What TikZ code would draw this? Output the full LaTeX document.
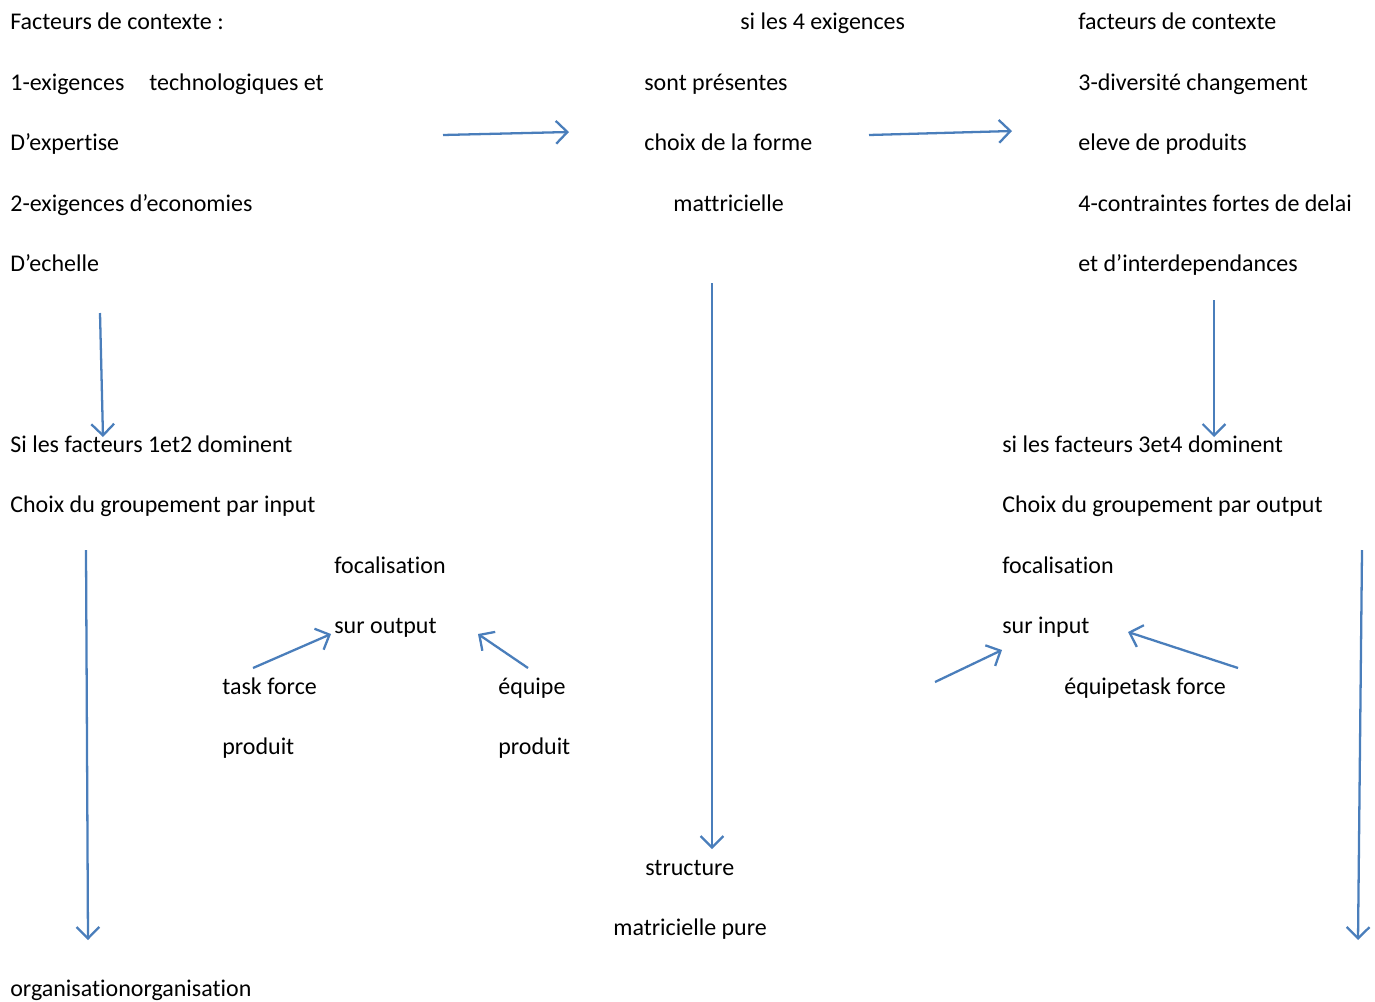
\documentclass[tikz,border=0pt]{standalone}
\usepackage{fontspec}
\setmainfont{Carlito}[Ligatures=NoCommon]
\usepackage{xcolor}
\usepackage{tikz}
\usetikzlibrary{arrows.meta}
\usetikzlibrary{positioning}

\definecolor{bleuligne}{HTML}{4A7EBB}

\begin{document}
\begin{tikzpicture}[x=0.02cm,y=-0.02cm,
	txt/.style={anchor=base west,inner sep=0pt,font=\fontsize{13.65}{16}\selectfont},
	fleche/.style={draw=bleuligne,line width=1.3pt,-{Straight Barb[length=6.5pt,width=13pt,line width=1.3pt]}}]

	\useasboundingbox (0,0) rectangle (1375,1001);

	% colonne de gauche
	\node [txt] (ctxA) at (10,29) {Facteurs de contexte :};
	\node [txt] (exA) at (10,90) {1-exigences};
	\node [txt] (exB) at (149,90) {technologiques et};
	\node [txt] (exC) at (10,150) {D’expertise};
	\node [txt] (exD) at (10,211) {2-exigences d’economies};
	\node [txt] (exE) at (10,271) {D’echelle};

	% colonne du milieu
	\node [txt] (milA) at (740,29) {si les 4 exigences};
	\node [txt] (milB) at (644,90) {sont présentes};
	\node [txt] (milC) at (644,150) {choix de la forme};
	\node [txt] (milD) at (673,211) {mattricielle};

	% colonne de droite
	\node [txt] (ctxB) at (1078,29) {facteurs de contexte};
	\node [txt] (exF) at (1078,90) {3-diversité changement};
	\node [txt] (exG) at (1078,150) {eleve de produits};
	\node [txt] (exH) at (1078,211) {4-contraintes fortes de delai};
	\node [txt] (exI) at (1078,271) {et d’interdependances};

	% input
	\node [txt] (inA) at (10,452) {Si les facteurs 1et2 dominent};
	\node [txt] (inB) at (10,512) {Choix du groupement par input};
	\node [txt] (focA) at (334,573) {focalisation};
	\node [txt] (focB) at (334,633) {sur output};
	\node [txt] (tfA) at (222,694) {task force};
	\node [txt] (tfB) at (222,754) {produit};
	\node [txt] (eqA) at (498,694) {équipe};
	\node [txt] (eqB) at (498,754) {produit};
	\node [txt] (orgA) at (10,996) {organisationorganisation};

	% output
	\node [txt] (outA) at (1002,452) {si les facteurs 3et4 dominent};
	\node [txt] (outB) at (1002,512) {Choix du groupement par output};
	\node [txt] (focC) at (1002,573) {focalisation};
	\node [txt] (focD) at (1002,633) {sur input};
	\node [txt] (eqC) at (1064,694) {équipetask force};

	% matricielle
	\node [txt] (strA) at (645,875) {structure};
	\node [txt] (strB) at (613,935) {matricielle pure};

	% fleches
	\coordinate (f1a) at (443,135);  \coordinate (f1b) at (569,132);
	\coordinate (f2a) at (869,135);  \coordinate (f2b) at (1012,131);
	\coordinate (f3a) at (100,313);  \coordinate (f3b) at (103,437);
	\coordinate (f4a) at (712,283);  \coordinate (f4b) at (712,849);
	\coordinate (f5a) at (1214,300); \coordinate (f5b) at (1214,437);
	\coordinate (f6a) at (86,550);   \coordinate (f6b) at (88,940);
	\coordinate (f7a) at (1362,550); \coordinate (f7b) at (1358,940);
	\coordinate (f8a) at (253,668);  \coordinate (f8b) at (331,634);
	\coordinate (f9a) at (528,668);  \coordinate (f9b) at (478,634);
	\coordinate (f10a) at (935,682); \coordinate (f10b) at (1002,650);
	\coordinate (f11a) at (1238,668); \coordinate (f11b) at (1128,632);

	\draw [fleche] (f1a) -- (f1b);
	\draw [fleche] (f2a) -- (f2b);
	\draw [fleche] (f3a) -- (f3b);
	\draw [fleche] (f4a) -- (f4b);
	\draw [fleche] (f5a) -- (f5b);
	\draw [fleche] (f6a) -- (f6b);
	\draw [fleche] (f7a) -- (f7b);
	\draw [fleche] (f8a) -- (f8b);
	\draw [fleche] (f9a) -- (f9b);
	\draw [fleche] (f10a) -- (f10b);
	\draw [fleche] (f11a) -- (f11b);

\end{tikzpicture}
\end{document}
